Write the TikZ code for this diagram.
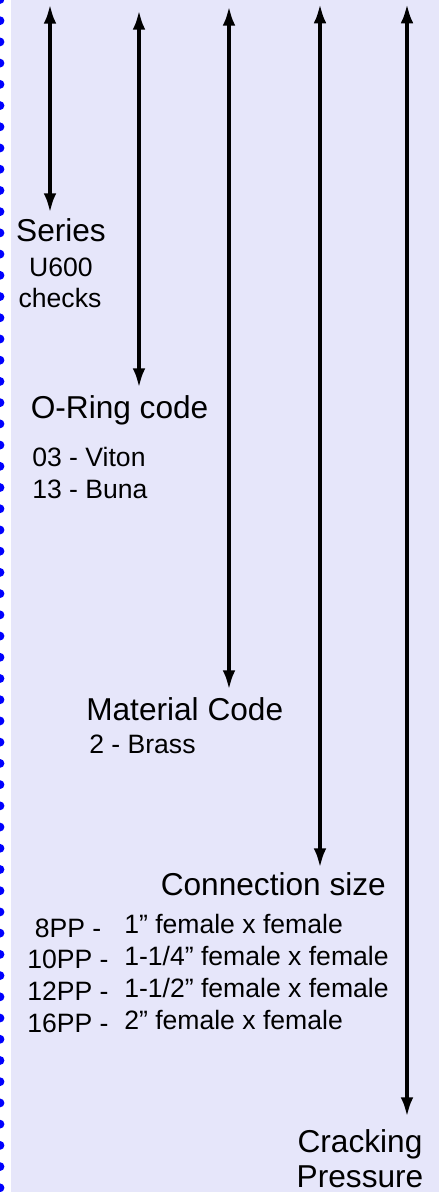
\documentclass[tikz,border=0pt]{standalone}
\usepackage{fontspec}
\setmainfont{Liberation Sans}
\usepackage{tikz}
\usetikzlibrary{arrows.meta}

\definecolor{lavbg}{RGB}{230,230,250}

\begin{document}
\begin{tikzpicture}
  \tikzset{HEAD/.style={font=\fontsize{22.5}{27}\selectfont, inner sep=0pt} }
  \tikzset{ITEM/.style={font=\fontsize{18.9}{22.7}\selectfont, inner sep=0pt} }
  \tikzset{DIM/.style={<->, >={Latex[length=14pt,width=9pt]}, line width=2.85pt} }

  \useasboundingbox (0,0) rectangle (10.975,-29.8);
  \fill[lavbg] (0.275,0) rectangle (10.975,-29.8);

  % binder holes
  \foreach \k in {-1,...,55}
    \fill[blue] (0,{-(20.7+21.22*\k)/40}) circle (0.11);

  % ends of the dimension arrows
  \coordinate (top1) at (1.250,-0.10);   \coordinate (bot1) at (1.250,-5.325);
  \coordinate (top2) at (3.475,-0.25);   \coordinate (bot2) at (3.475,-9.70);
  \coordinate (top3) at (5.725,-0.15);   \coordinate (bot3) at (5.725,-17.25);
  \coordinate (top4) at (8.000,-0.09);   \coordinate (bot4) at (8.000,-21.70);
  \coordinate (top5) at (10.175,-0.09);  \coordinate (bot5) at (10.175,-27.925);

  \draw[DIM] (top1) -- (bot1);
  \draw[DIM] (top2) -- (bot2);
  \draw[DIM] (top3) -- (bot3);
  \draw[DIM] (top4) -- (bot4);
  \draw[DIM] (top5) -- (bot5);

  \node[HEAD, anchor=base] (series) at (1.525,-6.05) {Series};
  \node[ITEM, anchor=base] (u600) at (1.525,-6.925) {U600};
  \node[ITEM, anchor=base] (checks) at (1.500,-7.675) {checks};

  \node[HEAD, anchor=base west] (oring) at (0.7625,-10.45) {O-Ring code};
  \node[ITEM, anchor=base west] (viton) at (0.800,-11.65) {03 - Viton};
  \node[ITEM, anchor=base west] (buna) at (0.800,-12.45) {13 - Buna};

  \node[HEAD, anchor=base west] (material) at (2.150,-18.00) {Material Code};
  \node[ITEM, anchor=base west] (brass) at (2.225,-18.825) {2 - Brass};

  \node[HEAD, anchor=base west] (connection) at (4.0125,-22.375) {Connection size};
  \node[ITEM, anchor=base] (pp8) at (1.700,-23.425) {8PP -};
  \node[ITEM, anchor=base] (pp10) at (1.700,-24.200) {10PP -};
  \node[ITEM, anchor=base] (pp12) at (1.700,-25.000) {12PP -};
  \node[ITEM, anchor=base] (pp16) at (1.700,-25.800) {16PP -};
  \node[ITEM, anchor=base west] (size8) at (3.100,-23.325) {1” female x female};
  \node[ITEM, anchor=base west] (size10) at (3.100,-24.125) {1-1/4” female x female};
  \node[ITEM, anchor=base west] (size12) at (3.100,-24.925) {1-1/2” female x female};
  \node[ITEM, anchor=base west] (size16) at (3.100,-25.725) {2” female x female};

  \node[HEAD, anchor=base] (cracking) at (9.000,-28.800) {Cracking};
  \node[HEAD, anchor=base] (pressure) at (9.000,-29.675) {Pressure};
\end{tikzpicture}
\end{document}
